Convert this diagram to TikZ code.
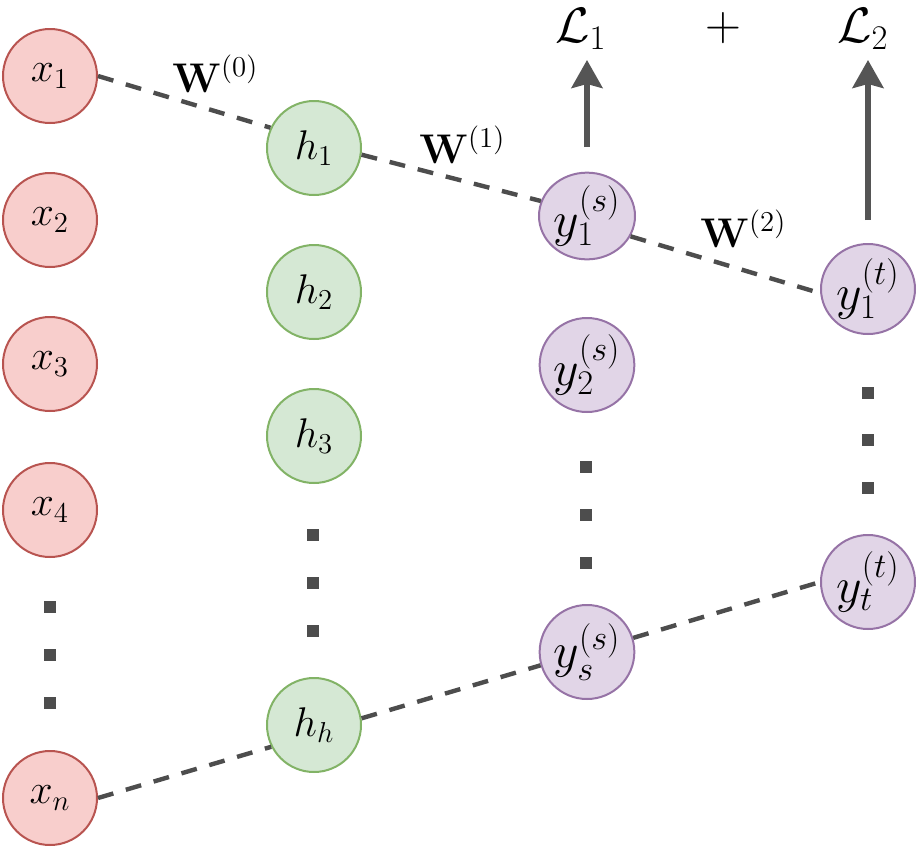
\documentclass[tikz,border=0pt]{standalone}
\usetikzlibrary{arrows.meta,shapes.geometric}
\definecolor{redfill}{HTML}{F8CECC}
\definecolor{redline}{HTML}{B85450}
\definecolor{greenfill}{HTML}{D5E8D4}
\definecolor{greenline}{HTML}{82B366}
\definecolor{purpfill}{HTML}{E1D5E7}
\definecolor{purpline}{HTML}{9673A6}
\definecolor{edgec}{HTML}{4D4D4D}
\definecolor{arrc}{HTML}{555555}
\tikzset{
  neuron/.style={ellipse,inner sep=0pt,minimum width=47pt,minimum height=47pt,line width=1pt,
    font=\fontsize{21.5}{25}\selectfont},
  xnode/.style={neuron,draw=redline,fill=redfill},
  hnode/.style={neuron,draw=greenline,fill=greenfill},
  ynode/.style={neuron,draw=purpline,fill=purpfill,font=\fontsize{24}{28}\selectfont},
  dotbox/.style={rectangle,fill=edgec,inner sep=0pt,minimum size=6pt},
  wlink/.style={draw=edgec,line width=2.2pt,dash pattern=on 8pt off 6.5pt},
  wlabel/.style={inner sep=0pt,anchor=base west,font=\fontsize{20.5}{24}\selectfont},
  losslabel/.style={inner sep=0pt,anchor=base west,font=\fontsize{23}{27}\selectfont},
  lossarrow/.style={draw=arrc,line width=2.6pt,-{Stealth[length=14pt,width=15.5pt,inset=2pt]}}
}
\begin{document}
\begin{tikzpicture}[x=0.5pt,y=-0.5pt]
\useasboundingbox (0,0) rectangle (918,848);
% input layer
\node[xnode] (x1) at (50,76) {$x_1$};
\node[xnode] (x2) at (50,220) {$x_2$};
\node[xnode] (x3) at (50,364) {$x_3$};
\node[xnode] (x4) at (50,510) {$x_4$};
\node[dotbox] (dx1) at (50,607) {};
\node[dotbox] (dx2) at (50,655) {};
\node[dotbox] (dx3) at (50,703) {};
\node[xnode] (xn) at (50,798) {$x_n$};
% hidden layer
\node[hnode] (h1) at (314,148) {$h_1$};
\node[hnode] (h2) at (314,292) {$h_2$};
\node[hnode] (h3) at (314,436) {$h_3$};
\node[dotbox] (dh1) at (313,535) {};
\node[dotbox] (dh2) at (313,583) {};
\node[dotbox] (dh3) at (313,631) {};
\node[hnode] (hh) at (314,725) {$h_h$};
% source outputs
\node[ynode,minimum height=43pt,minimum width=48pt] (ys1) at (587,216) {$y_1^{(s)}$};
\node[ynode] (ys2) at (587,365) {$y_2^{(s)}$};
\node[dotbox] (dy1) at (586,467) {};
\node[dotbox] (dy2) at (586,515) {};
\node[dotbox] (dy3) at (586,563) {};
\node[ynode] (yss) at (587,652) {$y_s^{(s)}$};
% target outputs
\node[ynode,minimum height=45pt] (yt1) at (868,289) {$y_1^{(t)}$};
\node[dotbox] (dt1) at (868,393) {};
\node[dotbox] (dt2) at (868,440) {};
\node[dotbox] (dt3) at (868,488) {};
\node[ynode] (ytt) at (868,582) {$y_t^{(t)}$};
% weight links
\draw[wlink] (x1.east) -- (h1.155);
\draw[wlink] (h1.-8) -- (ys1.162);
\draw[wlink] (ys1.-25) -- (yt1.185);
\draw[wlink] (xn.east) -- (hh.207);
\draw[wlink] (hh.8) -- (yss.196);
\draw[wlink] (yss.17) -- (ytt.west);
% weight labels
\node[wlabel] (w0) at (172,92) {$\mathbf{W}^{(0)}$};
\node[wlabel] (w1) at (419,163) {$\mathbf{W}^{(1)}$};
\node[wlabel] (w2) at (700,247) {$\mathbf{W}^{(2)}$};
% losses
\node[losslabel] (L1) at (555,42) {$\mathcal{L}_1$};
\node[losslabel] (L2) at (837,42) {$\mathcal{L}_2$};
\node[inner sep=0pt,font=\fontsize{23}{27}\selectfont] (plus) at (723,28) {$+$};
\coordinate (a1s) at (587,147);
\coordinate (a1e) at (587,60);
\coordinate (a2s) at (868,220);
\coordinate (a2e) at (868,60);
\draw[lossarrow] (a1s) -- (a1e);
\draw[lossarrow] (a2s) -- (a2e);
\end{tikzpicture}
\end{document}
